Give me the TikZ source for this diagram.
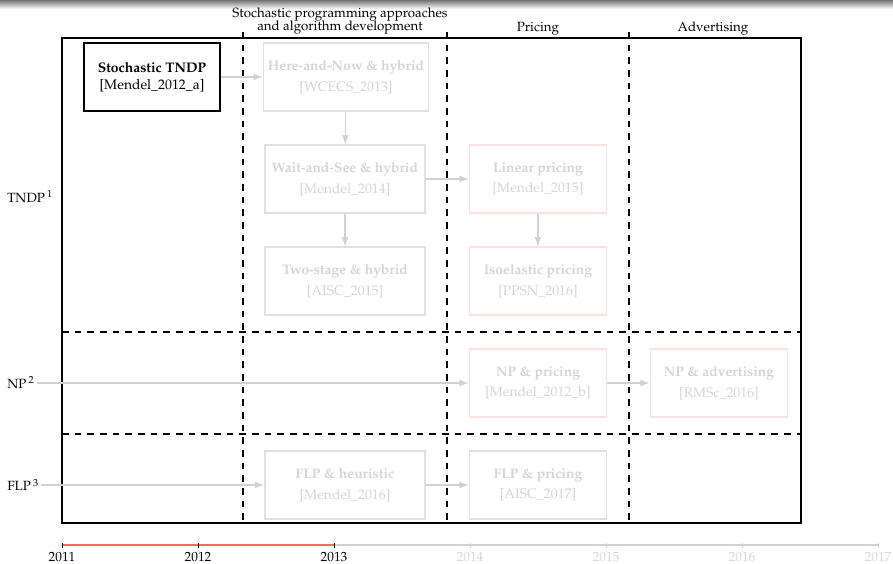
\documentclass[tikz,border=0pt]{standalone}
\usepackage[T1]{fontenc}
\usepackage{mathpazo}
\usepackage{tikz}
\usetikzlibrary{positioning}
\usetikzlibrary{arrows.meta}
\colorlet{boxgray}{black!12}
\colorlet{boxpink}{red!12}
\colorlet{txtgray}{black!17}
\colorlet{arrgray}{black!18}
\colorlet{linered}{red!60}
\tikzset{>={Latex[length=7pt,width=5pt]}}
\tikzstyle{paper}=[draw=black,thick,minimum width=102pt,minimum height=51pt,align=center,font=\fontsize{10.4pt}{12.5pt}\selectfont]
\tikzstyle{future}=[paper,draw=boxgray,text=txtgray,minimum width=120pt]
\tikzstyle{pricebox}=[future,draw=boxpink,minimum width=103pt]
\tikzstyle{flow}=[->,arrgray,thick]
\tikzstyle{sep}=[dash pattern=on 5pt off 4.5pt,thick]

\begin{document}
\begin{tikzpicture}[x=0.75pt,y=-0.75pt]
\useasboundingbox (0,0) rectangle (893,564);

% Frame bar
\shade[top color=black!55,bottom color=white] (0,0) rectangle (893,9);

% Outer box and column/row separators
\draw[thick] (62,38) rectangle (801,523);
\draw[sep] (243,32) -- (243,523);
\draw[sep] (447,32) -- (447,523);
\draw[sep] (629,32) -- (629,523);
\draw[sep] (62,332) -- (801,332);
\draw[sep] (62,434) -- (801,434);

% Column headings
\node[align=center] (hstoch) at (340,21) {Stochastic programming approaches\\[-2pt]and algorithm development};
\node (hprice) at (538,29) {Pricing};
\node (hadv) at (713,29) {Advertising};

% Row labels
\node[anchor=west,inner xsep=0pt] (tndp) at (7,197) {TNDP\,$^1$};
\node[anchor=west,inner xsep=0pt] (np) at (7,383) {NP\,$^2$};
\node[anchor=west,inner xsep=0pt] (flp) at (7,485) {FLP\,$^3$};

% Papers
\node[paper] (stoch) at (152,77) {\textbf{Stochastic TNDP}\\{[Mendel\_2012\_a]}};
\node[future] (hn) at (346,77) {\textbf{Here-and-Now \& hybrid}\\[3pt]{[WCECS\_2013]}};
\node[future] (ws) at (345,179) {\textbf{Wait-and-See \& hybrid}\\[3pt]{[Mendel\_2014]}};
\node[future] (ts) at (345,281) {\textbf{Two-stage \& hybrid}\\[3pt]{[AISC\_2015]}};
\node[pricebox] (lin) at (538,179) {\textbf{Linear pricing}\\[3pt]{[Mendel\_2015]}};
\node[pricebox] (iso) at (538,281) {\textbf{Isoelastic pricing}\\[3pt]{[PPSN\_2016]}};
\node[pricebox] (npp) at (538,383) {\textbf{NP \& pricing}\\[3pt]{[Mendel\_2012\_b]}};
\node[pricebox] (npa) at (719,383) {\textbf{NP \& advertising}\\[3pt]{[RMSc\_2016]}};
\node[future] (flph) at (345,485) {\textbf{FLP \& heuristic}\\[3pt]{[Mendel\_2016]}};
\node[future,minimum width=103pt] (flpp) at (538,485) {\textbf{FLP \& pricing}\\[3pt]{[AISC\_2017]}};

% Links
\draw[flow] (stoch) -- (hn);
\draw[flow] (hn) -- (ws);
\draw[flow] (ws) -- (ts);
\draw[flow] (ws) -- (lin);
\draw[flow] (lin) -- (iso);
\draw[flow] (np.east) ++(2,0) -- (npp);
\draw[flow] (npp) -- (npa);
\draw[flow] (flp.east) ++(2,0) -- (flph);
\draw[flow] (flph) -- (flpp);

% Timeline
\draw[arrgray,thick] (334,545) -- (878,545);
\draw[linered,thick] (62,545) -- (334,545);
\foreach \yr [count=\i from 0] in {2011,2012,2013} {
  \draw (62+136*\i,542.5) -- (62+136*\i,547.5);
  \node (y\yr) at (62+136*\i,557) {\yr};
}
\foreach \yr [count=\i from 3] in {2014,2015,2016,2017} {
  \draw[arrgray] (62+136*\i,542.5) -- (62+136*\i,547.5);
  \node[text=txtgray] (y\yr) at (62+136*\i,557) {\yr};
}

\end{tikzpicture}
\end{document}
